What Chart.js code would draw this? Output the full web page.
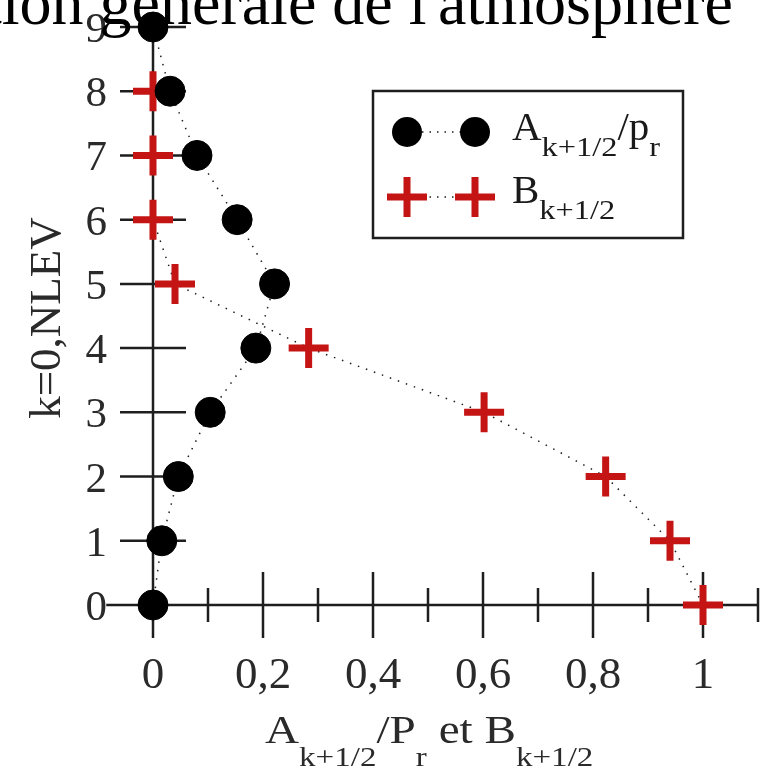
<!DOCTYPE html>
<html>
<head>
<meta charset="utf-8">
<script src="https://cdn.jsdelivr.net/npm/chart.js@4/dist/chart.umd.min.js"></script>
<style>
  html, body { margin: 0; padding: 0; background: #fff; }
  canvas { display: block; }
</style>
</head>
<body>
<canvas id="levelsChart" width="777" height="766"></canvas>
<script>
// Hybrid coordinate coefficients per level k = 0..NLEV
const levelsA = [0, 1, 2, 3, 4, 5, 6, 7, 8, 9];
const aOverPr = [0, 0.016, 0.046, 0.104, 0.187, 0.221, 0.153, 0.080, 0.031, 0];
const levelsB = [0, 1, 2, 3, 4, 5, 6, 7, 8];
const bValues = [1, 0.94, 0.823, 0.602, 0.283, 0.04, 0, 0, 0];

const xMajorTicks = [0, 0.2, 0.4, 0.6, 0.8, 1];
const xTickLabels = ['0', '0,2', '0,4', '0,6', '0,8', '1'];
const xMinorTicks = [0.1, 0.3, 0.5, 0.7, 0.9, 1.1];
const yTicks = [0, 1, 2, 3, 4, 5, 6, 7, 8, 9];

const SERIF = '"Liberation Serif", "DejaVu Serif", serif';
const INK = '#1e1e1e';
const RED = '#c41414';

// text made of normal and subscript parts; returns total width
// st = { size, sx, sub, subSx, drop }
function richText(ctx, parts, x, y, st, measureOnly) {
    let w = 0;
    parts.forEach(p => {
        const size = p.sub ? st.sub : st.size;
        const sx = p.sub ? st.subSx : st.sx;
        ctx.font = size + 'px ' + SERIF;
        const tw = ctx.measureText(p.t).width * sx;
        if (!measureOnly) {
            ctx.save();
            ctx.translate(x + w, y + (p.sub ? st.drop : 0));
            ctx.scale(sx, 1);
            ctx.fillText(p.t, 0, 0);
            ctx.restore();
        }
        w += tw;
    });
    return w;
}

const axesPlugin = {
    id: 'crossAxes',
    beforeDatasetsDraw(chart) {
        const { ctx, scales: { x, y } } = chart;
        const x0 = x.getPixelForValue(0), y0 = y.getPixelForValue(0);
        ctx.save();
        ctx.strokeStyle = INK;
        ctx.lineWidth = 2.5;
        ctx.beginPath();
        // axes crossing at the origin
        ctx.moveTo(x.getPixelForValue(-0.085), y0);
        ctx.lineTo(x.getPixelForValue(1.1), y0);
        ctx.moveTo(x0, y.getPixelForValue(9.2));
        ctx.lineTo(x0, y0 + 33);
        // ticks
        yTicks.forEach(v => {
            if (v === 0) return;
            const py = y.getPixelForValue(v);
            ctx.moveTo(x0 - 33, py); ctx.lineTo(x0 + 33, py);
        });
        xMajorTicks.forEach(v => {
            const px = x.getPixelForValue(v);
            ctx.moveTo(px, y0 - 33); ctx.lineTo(px, y0 + 33);
        });
        xMinorTicks.forEach(v => {
            const px = x.getPixelForValue(v);
            ctx.moveTo(px, y0 - 17); ctx.lineTo(px, y0 + 17);
        });
        ctx.stroke();

        // tick labels
        ctx.fillStyle = '#2a2a2a';
        ctx.font = '43px ' + SERIF;
        ctx.textAlign = 'right';
        ctx.textBaseline = 'alphabetic';
        yTicks.forEach(v => ctx.fillText(String(v), 107, y.getPixelForValue(v) + 15));
        ctx.textAlign = 'center';
        ctx.font = '45px ' + SERIF;
        xMajorTicks.forEach((v, i) => ctx.fillText(xTickLabels[i], x.getPixelForValue(v), 688));
        ctx.restore();
    },
    afterDraw(chart) {
        const { ctx } = chart;
        ctx.save();
        ctx.fillStyle = '#000';
        ctx.textBaseline = 'alphabetic';

        // title, cut off by the top/left edge as in the source image
        ctx.font = '64px ' + SERIF;
        ctx.textAlign = 'right';
        ctx.fillText("circulation générale de l'atmosphère", 733, 24);

        // y axis title
        ctx.save();
        ctx.translate(60, 318);
        ctx.rotate(-Math.PI / 2);
        ctx.textAlign = 'center';
        ctx.font = '45px ' + SERIF;
        ctx.fillStyle = '#2a2a2a';
        ctx.fillText('k=0,NLEV', 0, 0);
        ctx.restore();

        // x axis title
        ctx.textAlign = 'left';
        ctx.fillStyle = '#2a2a2a';
        const xParts = [{ t: 'A' }, { t: 'k+1/2', sub: true }, { t: '/P' }, { t: 'r', sub: true },
                        { t: ' et B' }, { t: 'k+1/2', sub: true }];
        richText(ctx, xParts, 265, 743, { size: 40, sx: 1.18, sub: 28, subSx: 1.18, drop: 23 });

        // legend box
        ctx.strokeStyle = INK;
        ctx.lineWidth = 2.5;
        ctx.strokeRect(373, 91, 310, 147);

        const rows = [
            { cy: 132, base: 140, parts: [{ t: 'A' }, { t: 'k+1/2', sub: true }, { t: '/p' }, { t: 'r', sub: true }], dot: true },
            { cy: 197, base: 203, parts: [{ t: 'B' }, { t: 'k+1/2', sub: true }], dot: false }
        ];
        rows.forEach(r => {
            ctx.setLineDash([1.5, 6]);
            ctx.lineWidth = 1.5;
            ctx.strokeStyle = INK;
            ctx.beginPath();
            ctx.moveTo(407, r.cy); ctx.lineTo(475, r.cy);
            ctx.stroke();
            ctx.setLineDash([]);
            [407, 475].forEach(cx => {
                if (r.dot) {
                    ctx.fillStyle = '#000';
                    ctx.beginPath(); ctx.arc(cx, r.cy, 15, 0, Math.PI * 2); ctx.fill();
                } else {
                    ctx.strokeStyle = RED;
                    ctx.lineWidth = 7;
                    ctx.beginPath();
                    ctx.moveTo(cx - 20, r.cy); ctx.lineTo(cx + 20, r.cy);
                    ctx.moveTo(cx, r.cy - 20); ctx.lineTo(cx, r.cy + 20);
                    ctx.stroke();
                }
            });
            ctx.fillStyle = '#1a1a1a';
            richText(ctx, r.parts, 512, r.base, { size: 41, sx: 1, sub: 27, subSx: 1.2, drop: 16 });
        });
        ctx.restore();
    }
};

new Chart(document.getElementById('levelsChart'), {
    type: 'scatter',
    data: {
        datasets: [
            {
                label: 'A/pr',
                data: levelsA.map((k, i) => ({ x: aOverPr[i], y: k })),
                showLine: true,
                borderColor: INK,
                borderWidth: 1.5,
                borderDash: [1.5, 7],
                pointStyle: 'circle',
                pointRadius: 15,
                pointBorderWidth: 1,
                pointBackgroundColor: '#000',
                pointBorderColor: '#000',
                clip: false
            },
            {
                label: 'B',
                data: levelsB.map((k, i) => ({ x: bValues[i], y: k })),
                showLine: true,
                borderColor: INK,
                borderWidth: 1.5,
                borderDash: [1.5, 7],
                pointStyle: 'cross',
                pointRadius: 20,
                pointBorderWidth: 7,
                pointBorderColor: RED,
                pointBackgroundColor: RED,
                clip: false
            }
        ]
    },
    options: {
        responsive: false,
        animation: false,
        layout: { padding: { left: 153, right: 74, top: 25, bottom: 161 } },
        scales: {
            x: { type: 'linear', min: 0, max: 1, display: false },
            y: { type: 'linear', min: 0, max: 9, display: false }
        },
        plugins: {
            legend: { display: false },
            tooltip: { enabled: false }
        }
    },
    plugins: [axesPlugin]
});
</script>
</body>
</html>
